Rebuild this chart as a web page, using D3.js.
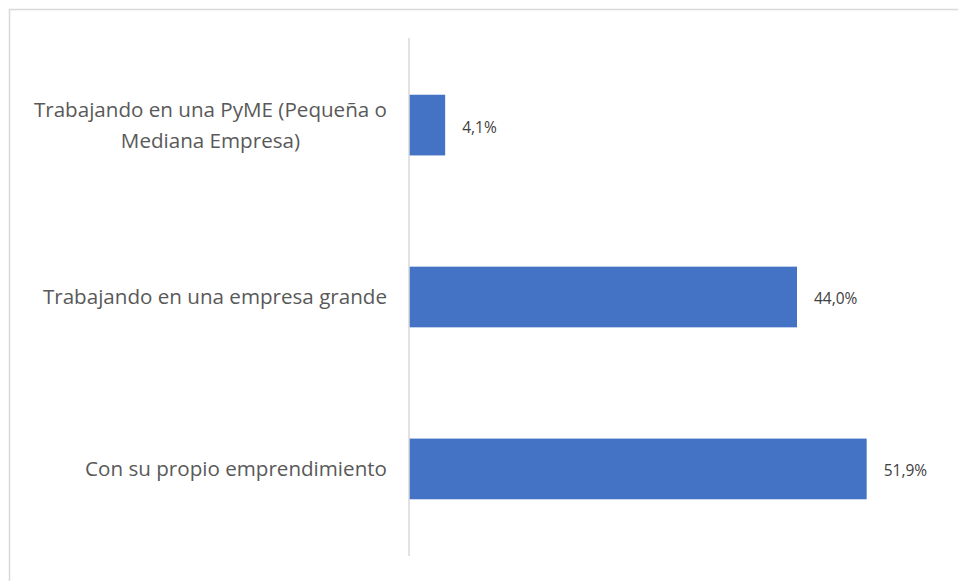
<!DOCTYPE html>
<html>
<head>
<meta charset="utf-8">
<script src="https://cdn.jsdelivr.net/npm/d3@7"></script>
<style>
  body { margin: 0; background: #fff; }
  svg { font-family: "Open Sans", "Noto Sans", sans-serif; }
</style>
</head>
<body>
<div id="chart"></div>
<script>
// data
var categories = [
  ["Trabajando en una PyME (Pequeña o", "Mediana Empresa)"],
  ["Trabajando en una empresa grande"],
  ["Con su propio emprendimiento"]
];
var values = [4.1, 44.0, 51.9];
var valueLabels = ["4,1%", "44,0%", "51,9%"];

var svgWidth = 958;
var svgHeight = 581;

var svg = d3.select("#chart")
  .append("svg")
  .attr("width", svgWidth)
  .attr("height", svgHeight);

// chart frame (only top and left edges visible)
svg.append("rect")
  .attr("x", 9.5)
  .attr("y", 9.5)
  .attr("width", 960)
  .attr("height", 600)
  .attr("fill", "none")
  .attr("stroke", "#d9d9d9")
  .attr("stroke-width", 1.5);

var plotTop = 38, plotBottom = 556;
var axisX = 409;

var xScale = d3.scaleLinear()
  .domain([0, 60])
  .range([axisX, axisX + 60 * 388 / 44]);

var yScale = d3.scaleBand()
  .domain(d3.range(categories.length))
  .range([plotTop, plotBottom])
  .paddingInner(0.647)
  .paddingOuter(0.33);

// bars
svg.selectAll("rect.bar")
  .data(values)
  .enter()
  .append("rect")
  .attr("class", "bar")
  .attr("x", xScale(0))
  .attr("y", (d, i) => yScale(i))
  .attr("width", d => xScale(d) - xScale(0))
  .attr("height", yScale.bandwidth())
  .attr("fill", "#4472c4");

// axis line
svg.append("line")
  .attr("x1", axisX)
  .attr("x2", axisX)
  .attr("y1", plotTop)
  .attr("y2", plotBottom)
  .attr("stroke", "#d9d9d9")
  .attr("stroke-width", 1.5);

// category labels
var lineH = 31;
categories.forEach(function(lines, i) {
  var cy = yScale(i) + yScale.bandwidth() / 2;
  var t = svg.append("text")
    .attr("font-size", "20.6px")
    .attr("fill", "#595959")
    .attr("text-anchor", "middle");
  var startY = cy - (lines.length - 1) * lineH / 2;
  lines.forEach(function(l, j) {
    t.append("tspan")
      .attr("x", 0)
      .attr("y", startY + j * lineH)
      .attr("dy", "0.35em")
      .text(l);
  });
  // right-align the block at x=387, lines centered inside it
  var w = t.node().getBBox().width;
  t.selectAll("tspan").attr("x", 387 - w / 2);
});

// value labels
svg.selectAll("text.val")
  .data(values)
  .enter()
  .append("text")
  .attr("class", "val")
  .attr("x", d => xScale(d) + 17)
  .attr("y", (d, i) => yScale(i) + yScale.bandwidth() / 2 + 2)
  .attr("dy", "0.35em")
  .attr("font-size", "15.5px")
  .attr("fill", "#404040")
  .text((d, i) => valueLabels[i]);
</script>
</body>
</html>
